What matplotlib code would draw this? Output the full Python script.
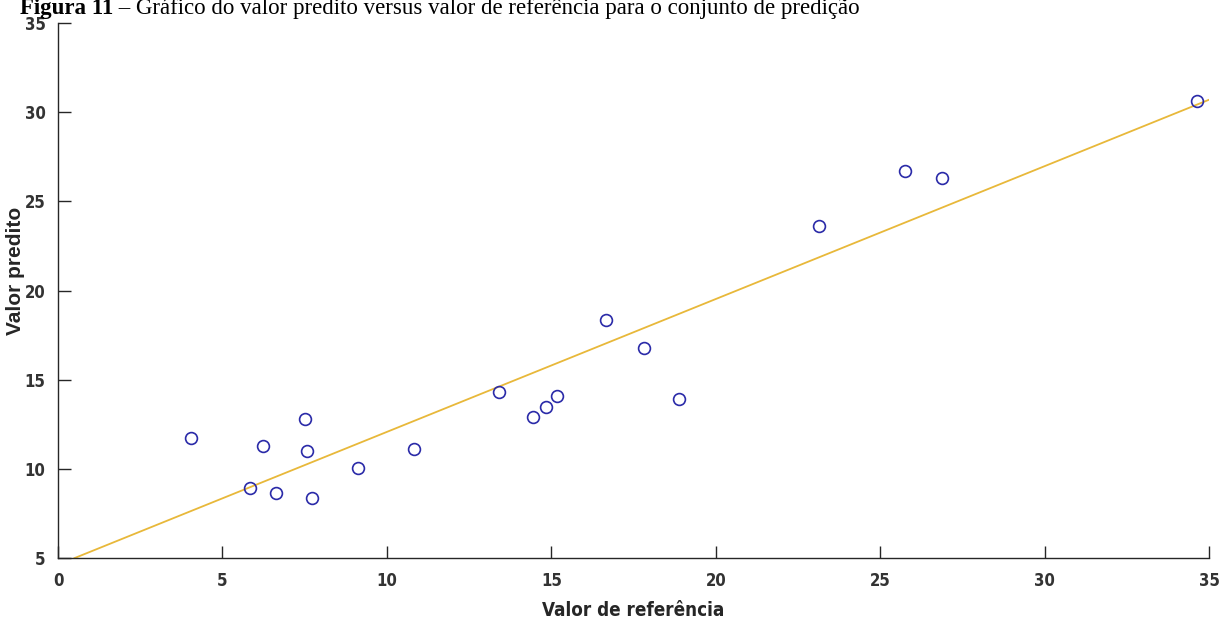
import matplotlib
matplotlib.use('Agg')
import matplotlib.pyplot as plt

# reference (x) vs predicted (y) values
ref_vals = [4.04, 5.84, 6.23, 6.63, 7.52, 7.57, 7.72, 9.11, 10.81, 13.40,
            14.45, 14.85, 15.16, 16.65, 17.81, 18.88, 23.14, 25.75, 26.89, 34.63]
pred_vals = [11.73, 8.91, 11.27, 8.66, 12.82, 10.99, 8.38, 10.06, 11.09, 14.31,
             12.90, 13.46, 14.07, 18.36, 16.77, 13.94, 23.64, 26.70, 26.33, 30.62]

# fitted line end points
fit_x = [0.5, 35.0]
fit_y = [5.0, 30.7]

x_ticks = [0, 5, 10, 15, 20, 25, 30, 35]
y_ticks = [5, 10, 15, 20, 25, 30, 35]

tick_font = ['DejaVu Sans']

fig = plt.figure(figsize=(12.19, 6.25), dpi=100)
ax = fig.add_axes([0.0476, 0.107, 0.9443, 0.8562])

ax.plot(fit_x, fit_y, color='#E8B83A', lw=1.3, zorder=2)
ax.plot(ref_vals, pred_vals, 'o', mfc='none', mec='#2a2aa8', ms=8.5, mew=1.2, zorder=3)

ax.set_xlim(0, 35)
ax.set_ylim(5, 35)
ax.set_xticks(x_ticks)
ax.set_yticks(y_ticks)
for s in ['top', 'right']:
    ax.spines[s].set_visible(False)
for s in ['left', 'bottom']:
    ax.spines[s].set_color('#262626')
    ax.spines[s].set_linewidth(1.0)
ax.tick_params(axis='y', direction='in', length=9, width=1, color='#262626', pad=9)
ax.tick_params(axis='x', direction='in', length=9, width=1, color='#262626', pad=10)
for lab in ax.get_xticklabels() + ax.get_yticklabels():
    lab.set_family(tick_font)
    lab.set_stretch('condensed')
    lab.set_fontsize(12)
    lab.set_fontweight('bold')
    lab.set_color('#333333')

ax.set_xlabel('Valor de referência', family=tick_font, stretch='condensed', fontsize=13.5,
              fontweight='bold', color='#262626')
ax.xaxis.set_label_coords(0.5, -0.08)
ax.set_ylabel('Valor predito', family=['Liberation Sans', 'DejaVu Sans'], fontsize=15,
              fontweight='bold', color='#262626')
ax.yaxis.set_label_coords(-0.029, 0.536)

# caption at the very top, as in the original
cap_font = ['Liberation Serif', 'DejaVu Serif']
t1 = fig.text(20 / 1219, 1 - 14 / 625, 'Figura 11', family=cap_font,
              fontsize=16.5, fontweight='bold', va='baseline')
fig.canvas.draw()
bb = t1.get_window_extent()
fig.text(bb.x1 / 1219, 1 - 14 / 625,
         ' \u2013 Gráfico do valor predito versus valor de referência para o conjunto de predição',
         family=cap_font, fontsize=16.5, va='baseline')

fig.savefig('out.png', dpi=100)
